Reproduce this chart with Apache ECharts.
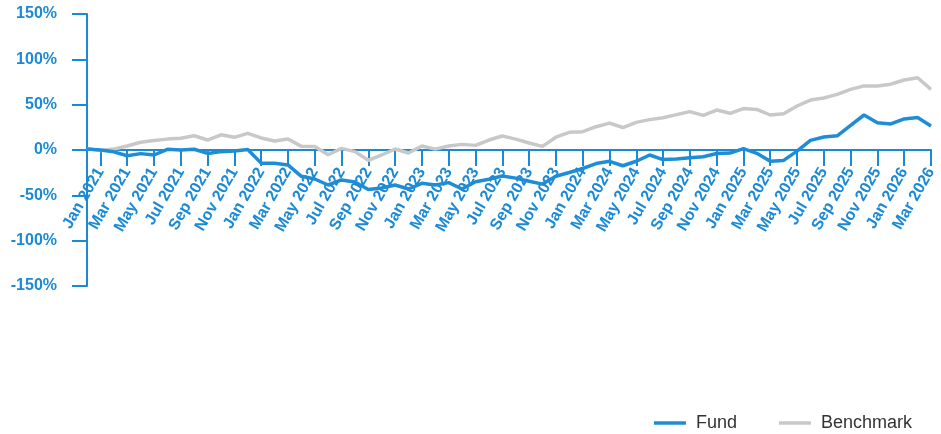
<!DOCTYPE html>
<html>
<head>
<meta charset="utf-8">
<script src="https://cdn.jsdelivr.net/npm/echarts@6/dist/echarts.min.js"></script>
<style>html,body{margin:0;padding:0;background:#fff}#c{width:941px;height:434px}</style>
</head>
<body>
<div id="c"></div>
<script>
var months = ['Dec 2020',
  'Jan 2021','Feb 2021','Mar 2021','Apr 2021','May 2021','Jun 2021','Jul 2021','Aug 2021','Sep 2021','Oct 2021','Nov 2021','Dec 2021',
  'Jan 2022','Feb 2022','Mar 2022','Apr 2022','May 2022','Jun 2022','Jul 2022','Aug 2022','Sep 2022','Oct 2022','Nov 2022','Dec 2022',
  'Jan 2023','Feb 2023','Mar 2023','Apr 2023','May 2023','Jun 2023','Jul 2023','Aug 2023','Sep 2023','Oct 2023','Nov 2023','Dec 2023',
  'Jan 2024','Feb 2024','Mar 2024','Apr 2024','May 2024','Jun 2024','Jul 2024','Aug 2024','Sep 2024','Oct 2024','Nov 2024','Dec 2024',
  'Jan 2025','Feb 2025','Mar 2025','Apr 2025','May 2025','Jun 2025','Jul 2025','Aug 2025','Sep 2025','Oct 2025','Nov 2025','Dec 2025',
  'Jan 2026','Feb 2026','Mar 2026'];
var fund = [1, 0, -2, -6.3, -4, -5.5, 0.8, 0, 0.8, -3.8, -1.8, -1, 0.5, -14.5, -14.5, -16.5, -29, -32, -38.6, -33, -35.3, -43.5, -42, -38.6, -43, -36.7, -38.6, -36, -43, -35, -32.3, -28.7, -31, -34.5, -37.6, -29, -24.8, -20.4, -15, -12.5, -17.4, -12.4, -5.5, -10.6, -10, -8.5, -7.4, -3.8, -3.4, 1.5, -3.7, -12.4, -11.5, -1.2, 10.6, 14.3, 15.6, 27.2, 38.6, 30, 28.7, 34.3, 35.8, 26.5];
var benchmark = [1.5, -0.5, 1, 4.4, 8.5, 10.5, 12, 13, 15.7, 11, 16.8, 14, 18.4, 13.3, 10, 12.1, 4, 3.8, -5.2, 1.8, -1.8, -11.4, -5.5, 1.1, -3.3, 4.4, 1, 4.4, 6.2, 5.1, 11, 15.4, 12, 7.7, 4, 14.1, 19.5, 20.2, 25.7, 29.7, 24.8, 30.5, 33.5, 35.5, 39, 42.3, 38.2, 44.1, 40.5, 45.7, 44.8, 38.6, 40, 48.5, 55.1, 57.3, 61.4, 66.9, 70.7, 70.7, 72.6, 77.2, 79.7, 66.9];
var yTicks = {min: -150, max: 150, step: 50};

var blue = '#1f8dd6';
var axisBlue = '#1b8ad4';
var gray = '#c8c8c8';
var font = '"Liberation Sans", Arial, sans-serif';
function odd(i){ return i % 2 === 1; }

var gridTop = 14, gridBottom = 148, chartH = 434;
var plotH = chartH - gridTop - gridBottom;
var zeroOffset = plotH * (0 - yTicks.min) / (yTicks.max - yTicks.min);

var chart = echarts.init(document.getElementById('c'), null, {renderer: 'canvas'});
chart.setOption({
  animation: false,
  grid: {left: 87, right: 10, top: gridTop, bottom: gridBottom, containLabel: false},
  legend: {
    right: 24, top: 409,
    itemWidth: 32, itemHeight: 14, itemGap: 42,
    icon: 'path://M0,0 L32,0 L32,3.5 L0,3.5 Z',
    textStyle: {fontFamily: font, fontSize: 18, color: '#333', padding: [0, 0, 0, 5]},
    data: [
      {name: 'Fund', itemStyle: {color: blue}},
      {name: 'Benchmark', itemStyle: {color: gray}}
    ]
  },
  xAxis: {
    type: 'category',
    data: months,
    boundaryGap: false,
    offset: -zeroOffset,
    axisLine: {onZero: false, lineStyle: {color: axisBlue, width: 2}},
    axisTick: {show: true, interval: function(i){ return odd(i); }, length: 16, lineStyle: {color: axisBlue, width: 2}},
    axisLabel: {
      interval: function(i){ return odd(i); },
      rotate: 60, margin: 19,
      color: axisBlue, fontFamily: font, fontSize: 16, fontWeight: 'bold'
    },
    splitLine: {show: false}
  },
  yAxis: {
    type: 'value',
    min: yTicks.min, max: yTicks.max, interval: yTicks.step,
    axisLine: {show: true, lineStyle: {color: axisBlue, width: 2}},
    axisTick: {show: true, length: 15, lineStyle: {color: axisBlue, width: 2}},
    axisLabel: {formatter: '{value}%', margin: 30, color: axisBlue, fontFamily: font, fontSize: 16, fontWeight: 'bold'},
    splitLine: {show: false}
  },
  series: [
    {name: 'Benchmark', type: 'line', data: benchmark, showSymbol: false, symbol: 'none',
     lineStyle: {color: gray, width: 3.5}, itemStyle: {color: gray}, z: 2},
    {name: 'Fund', type: 'line', data: fund, showSymbol: false, symbol: 'none',
     lineStyle: {color: blue, width: 3.5}, itemStyle: {color: blue}, z: 3}
  ]
});
</script>
</body>
</html>
